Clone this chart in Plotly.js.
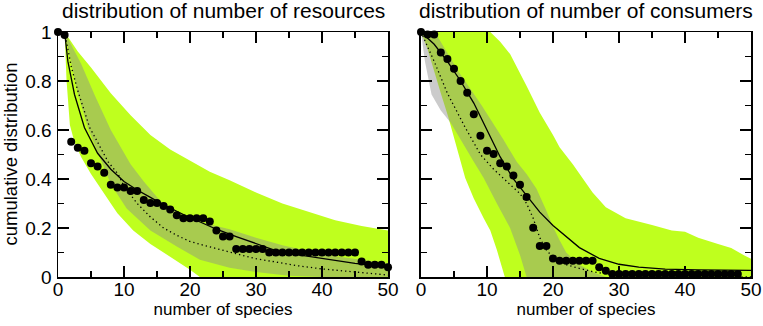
<!DOCTYPE html>
<html>
<head>
<meta charset="utf-8">
<script src="https://cdn.plot.ly/plotly-3.0.1.min.js"></script>
<style>
  html, body { margin: 0; padding: 0; background: #fff; }
  #myDiv { width: 763px; height: 326px; }
</style>
</head>
<body>
<div id="myDiv"></div>
<script>
// ---- left panel: number of resources ----
var resDotX = [0,1,2,3,4,5,6,7,8,9,10,11,12,13,14,15,16,17,18,19,20,21,22,23,24,25,26,27,28,29,30,31,32,33,34,35,36,37,38,39,40,41,42,43,44,45,46,47,48,49,50];
var resDotY = [1,0.988,0.552,0.528,0.515,0.464,0.451,0.426,0.377,0.365,0.365,0.351,0.351,0.314,0.302,0.302,0.29,0.276,0.252,0.24,0.24,0.24,0.24,0.227,0.19,0.165,0.165,0.114,0.114,0.114,0.114,0.114,0.1,0.1,0.1,0.1,0.1,0.1,0.1,0.1,0.1,0.1,0.1,0.1,0.1,0.1,0.063,0.05,0.05,0.05,0.04];

var resSolidX = [1,1.5,2.5,4,6,8,10,12,14,16,19,22,24,27,30,33,36,40,45,50];
var resSolidY = [1,0.88,0.745,0.61,0.505,0.44,0.39,0.355,0.325,0.295,0.255,0.22,0.195,0.165,0.135,0.108,0.092,0.076,0.056,0.04];

var resDotLineX = [1,2,3,4.8,7.6,9.1,10,12,14,16,18,20,22,24,26,28,30,33,36,40,45,50];
var resDotLineY = [1,0.86,0.76,0.61,0.47,0.42,0.37,0.3,0.245,0.2,0.17,0.145,0.13,0.115,0.103,0.088,0.075,0.06,0.047,0.033,0.02,0.008];

var resGreenUpX = [1,2,3,5,8,11,14,17,20,23,26,30,34,38,42,46,50];
var resGreenUpY = [1,0.96,0.92,0.855,0.75,0.66,0.58,0.52,0.475,0.43,0.395,0.345,0.3,0.265,0.232,0.208,0.19];
var resGreenLoX = [1,1.3,1.8,2.5,3.5,5,6.5,8,9,11.4,14,17,20,21.5,50];
var resGreenLoY = [1,0.8,0.62,0.55,0.49,0.42,0.36,0.3,0.26,0.19,0.135,0.083,0.03,0,0];

var resGreyUpX = [1,2,3.5,5.6,8,11,13,15.5,20,26,30,34,38,42,46,50];
var resGreyUpY = [1,0.95,0.87,0.74,0.6,0.46,0.39,0.31,0.235,0.195,0.16,0.13,0.105,0.085,0.07,0.056];
var resGreyLoX = [1,2,3,4.5,6.6,8,10.4,14,18,21.5,26,30,35,40,50];
var resGreyLoY = [1,0.88,0.75,0.61,0.47,0.38,0.28,0.19,0.125,0.07,0.038,0.02,0.005,0,0];

// ---- right panel: number of consumers ----
var conDotX = [0,1,2,3,4,5,6,7,8,9,10,11,12,13,14,15,16,17,18,19,20,21,22,23,24,25,26,27,28,29,30,31,32,33,34,35,36,37,38,39,40,41,42,43,44,45,46,47,48];
var conDotY = [1,0.99,0.99,0.916,0.89,0.85,0.8,0.752,0.664,0.577,0.515,0.502,0.464,0.451,0.414,0.377,0.327,0.201,0.127,0.127,0.076,0.066,0.066,0.066,0.066,0.066,0.066,0.04,0.026,0.012,0.012,0.012,0.012,0.012,0.012,0.012,0.012,0.012,0.012,0.012,0.012,0.012,0.012,0.012,0.012,0.012,0.012,0.012,0.012];

var conSolidX = [0,2,4,6,8,10,12,14,16,18,20,22,24,27,30,33,37,42,50];
var conSolidY = [1,0.95,0.88,0.8,0.71,0.6,0.49,0.4,0.33,0.265,0.21,0.165,0.12,0.076,0.052,0.04,0.032,0.029,0.027];

var conDotLineX = [0,2,4,6.7,9,11,13,15,16,17,18,19,20,22,24,26,28,30,35,40,50];
var conDotLineY = [1,0.88,0.75,0.61,0.5,0.44,0.39,0.34,0.3,0.24,0.16,0.11,0.08,0.05,0.035,0.022,0.013,0.008,0.004,0.002,0];

var conGreenUpX = [0,10.5,12,13.5,16,18,20,21,23,26,28,31,35,38,40,42,45,47,49,50];
var conGreenUpY = [1,1,0.96,0.91,0.78,0.67,0.58,0.53,0.46,0.345,0.285,0.24,0.212,0.19,0.185,0.16,0.135,0.118,0.088,0.075];
var conGreenLoX = [0,1,2,3,4.1,5,6.7,8,9.5,10.5,11.5,12.7,50];
var conGreenLoY = [1,0.93,0.84,0.75,0.656,0.57,0.404,0.32,0.24,0.19,0.11,0,0];

var conGreyUpX = [0,2.1,5.65,9.2,12.5,14.5,16,17.5,19,20,21,22,24,26,28];
var conGreyUpY = [1,1,0.84,0.7,0.56,0.47,0.42,0.36,0.27,0.205,0.15,0.1,0.05,0.02,0];
var conGreyLoX = [0,0.6,1.6,3,4.5,6,8,9.5,11.5,13.5,15,16];
var conGreyLoY = [1,0.88,0.745,0.68,0.63,0.56,0.47,0.404,0.3,0.2,0.09,0];

var green = 'rgb(191,255,30)';
var grey = 'rgba(140,140,140,0.45)';

function band(upX, upY, loX, loY, color, xa, ya) {
  return {
    x: upX.concat(loX.slice().reverse()),
    y: upY.concat(loY.slice().reverse()),
    xaxis: xa, yaxis: ya,
    type: 'scatter', mode: 'lines', fill: 'toself',
    fillcolor: color, line: {width: 0}, hoverinfo: 'skip'
  };
}

function line(x, y, dash, xa, ya) {
  return {
    x: x, y: y, xaxis: xa, yaxis: ya,
    type: 'scatter', mode: 'lines',
    line: {color: 'black', width: 1.3, dash: dash}
  };
}

function dots(x, y, xa, ya) {
  return {
    x: x, y: y, xaxis: xa, yaxis: ya,
    type: 'scatter', mode: 'markers', cliponaxis: false,
    marker: {color: 'black', size: 8}
  };
}

var data = [
  band(resGreenUpX, resGreenUpY, resGreenLoX, resGreenLoY, green, 'x', 'y'),
  band(resGreyUpX, resGreyUpY, resGreyLoX, resGreyLoY, grey, 'x', 'y'),
  line(resDotLineX, resDotLineY, '1.3px,3px', 'x', 'y'),
  line(resSolidX, resSolidY, 'solid', 'x', 'y'),
  dots(resDotX, resDotY, 'x', 'y'),
  band(conGreenUpX, conGreenUpY, conGreenLoX, conGreenLoY, green, 'x2', 'y2'),
  band(conGreyUpX, conGreyUpY, conGreyLoX, conGreyLoY, grey, 'x2', 'y2'),
  line(conDotLineX, conDotLineY, '1.3px,3px', 'x2', 'y2'),
  line(conSolidX, conSolidY, 'solid', 'x2', 'y2'),
  dots(conDotX, conDotY, 'x2', 'y2')
];

var fontFam = 'Liberation Sans, Arial, sans-serif';

function xax(domain) {
  return {
    domain: domain, range: [0, 50], dtick: 10, tick0: 0,
    ticks: 'inside', ticklen: 11, tickwidth: 1.3, tickcolor: 'black',
    minor: {dtick: 5, ticks: 'inside', ticklen: 6, tickwidth: 1.3, tickcolor: 'black'},
    showline: true, linecolor: 'black', linewidth: 1.5, mirror: 'ticks',
    showgrid: false, zeroline: false,
    tickfont: {size: 19, color: 'black'}, ticklabelstandoff: -5,
    title: {text: 'number of species', font: {size: 17, color: 'black'}, standoff: 3}
  };
}

function yax(anchor, labels) {
  return {
    anchor: anchor, domain: [0, 1], range: [0, 1], dtick: 0.2, tick0: 0,
    ticks: 'inside', ticklen: 11, tickwidth: 1.3, tickcolor: 'black',
    minor: {dtick: 0.1, ticks: 'inside', ticklen: 6, tickwidth: 1.3, tickcolor: 'black'},
    showline: true, linecolor: 'black', linewidth: 1.5, mirror: 'ticks',
    showgrid: false, zeroline: false, showticklabels: labels,
    tickfont: {size: 19, color: 'black'}, ticklabelstandoff: 1
  };
}

var layout = {
  width: 763, height: 326,
  margin: {l: 58, r: 12, t: 32, b: 49},
  paper_bgcolor: 'white', plot_bgcolor: 'white',
  font: {family: fontFam, color: 'black'},
  showlegend: false,
  xaxis: xax([0, 0.4762]),
  yaxis: yax('x', true),
  xaxis2: Object.assign(xax([0.5238, 1]), {anchor: 'y2'}),
  yaxis2: yax('x2', false),
  annotations: [
    {text: 'distribution of number of resources', xref: 'paper', yref: 'paper',
     x: 0.2381, xanchor: 'center', y: 1, yanchor: 'bottom', yshift: 8, showarrow: false, font: {size: 21}},
    {text: 'distribution of number of consumers', xref: 'paper', yref: 'paper',
     x: 0.7619, xanchor: 'center', y: 1, yanchor: 'bottom', yshift: 8, showarrow: false, font: {size: 21}},
    {text: 'cumulative distribution', xref: 'paper', yref: 'paper',
     x: 0, xanchor: 'center', xshift: -48, y: 0.5, yanchor: 'middle', textangle: -90, showarrow: false, font: {size: 18.5}}
  ]
};

Plotly.newPlot('myDiv', data, layout, {staticPlot: true});
</script>
</body>
</html>
